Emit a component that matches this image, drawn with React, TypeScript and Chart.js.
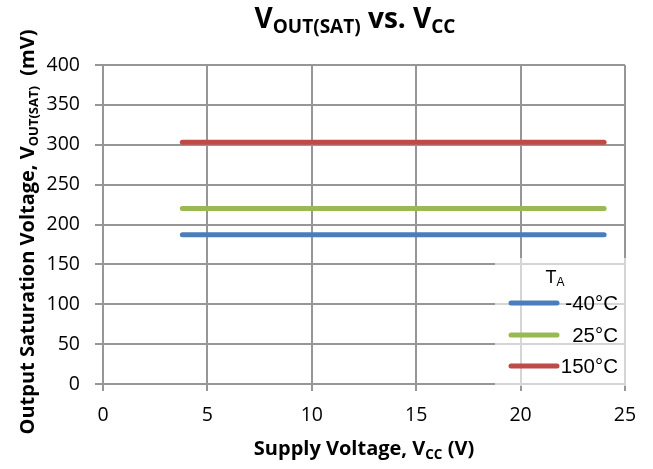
import React, { useEffect, useRef } from 'react';
import { Chart, registerables } from 'chart.js';

Chart.register(...registerables);

// ---- data ----
const supplyVoltage = [3.8, 5, 10, 15, 20, 24];
const seriesLabels = ['-40°C', '25°C', '150°C'];
const vsatMinus40 = [187, 187, 187, 187, 187, 187];
const vsat25 = [220, 220, 220, 220, 220, 220];
const vsat150 = [303, 303, 303, 303, 303, 303];
const seriesColors = ['#4A7EBB', '#98B954', '#BE4B48'];
const xMin = 0, xMax = 25, xStep = 5;
const yMin = 0, yMax = 400, yStep = 50;

type Seg = { t: string; sub?: boolean };

function drawRich(
  ctx: CanvasRenderingContext2D,
  segs: Seg[],
  x: number,
  y: number,
  mainFont: string,
  subFont: string,
  subDy: number,
  align: 'center' | 'left' | 'right' = 'center'
) {
  let total = 0;
  const widths = segs.map((s) => {
    ctx.font = s.sub ? subFont : mainFont;
    const w = ctx.measureText(s.t).width;
    total += w;
    return w;
  });
  let cx = align === 'center' ? x - total / 2 : align === 'right' ? x - total : x;
  ctx.textAlign = 'left';
  ctx.textBaseline = 'alphabetic';
  segs.forEach((s, i) => {
    ctx.font = s.sub ? subFont : mainFont;
    ctx.fillText(s.t, cx, y + (s.sub ? subDy : 0));
    cx += widths[i];
  });
}

const textPlugin = {
  id: 'richText',
  afterDatasetsDraw(chart: any) {
    const ctx: CanvasRenderingContext2D = chart.ctx;
    const ca = chart.chartArea;
    ctx.save();
    ctx.fillStyle = '#000';
    // title
    drawRich(
      ctx,
      [{ t: 'V' }, { t: 'OUT(SAT)', sub: true }, { t: ' vs. ' }, { t: 'V' }, { t: 'CC', sub: true }],
      355,
      28,
      'bold 28px "Open Sans"',
      'bold 19px "Open Sans"',
      5
    );
    // x axis title
    drawRich(
      ctx,
      [{ t: 'Supply Voltage, V' }, { t: 'CC', sub: true }, { t: ' (V)' }],
      (ca.left + ca.right) / 2,
      455,
      'bold 20px "Open Sans"',
      'bold 13.5px "Open Sans"',
      4
    );
    // y axis title
    ctx.save();
    ctx.translate(34, 232);
    ctx.rotate(-Math.PI / 2);
    drawRich(
      ctx,
      [{ t: 'Output Saturation Voltage, V' }, { t: 'OUT(SAT)', sub: true }, { t: '  (mV)' }],
      0,
      0,
      'bold 20px "Open Sans"',
      'bold 13px "Open Sans"',
      4
    );
    ctx.restore();

    // legend
    const lx = ca.right - 130;
    const ly = ca.bottom - 126;
    ctx.fillStyle = 'rgba(255,255,255,0.6)';
    ctx.fillRect(lx, ly, 132, 128);
    ctx.fillStyle = '#000';
    drawRich(ctx, [{ t: 'T' }, { t: 'A', sub: true }], 555, 283, '18px "Liberation Sans"', '12px "Liberation Sans"', 3);
    const rowY = [303, 335, 366];
    chart.data.datasets.forEach((ds: any, i: number) => {
      ctx.strokeStyle = ds.borderColor;
      ctx.lineWidth = 5;
      ctx.lineCap = 'round';
      ctx.beginPath();
      ctx.moveTo(511, rowY[i]);
      ctx.lineTo(557, rowY[i]);
      ctx.stroke();
      ctx.fillStyle = '#000';
      ctx.font = '20.5px "Liberation Sans"';
      ctx.textAlign = 'right';
      ctx.textBaseline = 'middle';
      ctx.fillText(ds.label, 618, rowY[i] + 1);
    });
    ctx.restore();
  },
};

export default function App() {
  const ref = useRef<HTMLCanvasElement>(null);
  useEffect(() => {
    if (!ref.current) return;
    const series = [vsatMinus40, vsat25, vsat150];
    const gridColor = '#969696';
    const chart = new Chart(ref.current, {
      type: 'line',
      data: {
        datasets: series.map((vals, i) => ({
          label: seriesLabels[i],
          data: supplyVoltage.map((x, j) => ({ x, y: vals[j] })),
          borderColor: seriesColors[i],
          backgroundColor: seriesColors[i],
          borderWidth: 5,
          borderCapStyle: 'round' as const,
          pointRadius: 0,
          tension: 0,
          fill: false,
        })),
      },
      options: {
        responsive: false,
        animation: false,
        layout: { padding: { top: 65, right: 28, left: 0, bottom: 0 } },
        plugins: { legend: { display: false }, title: { display: false }, tooltip: { enabled: false } },
        scales: {
          x: {
            type: 'linear',
            min: xMin,
            max: xMax,
            afterFit: (s: any) => { s.height = 85; },
            ticks: { stepSize: xStep, color: '#000', font: { family: '"Open Sans"', size: 19.5 }, padding: 13, maxRotation: 0 },
            grid: { color: gridColor, lineWidth: 2, tickLength: 7, tickColor: gridColor },
            border: { display: true, color: gridColor, width: 2 },
          },
          y: {
            min: yMin,
            max: yMax,
            afterFit: (s: any) => { s.width = 103; },
            ticks: { stepSize: yStep, color: '#000', font: { family: '"Open Sans"', size: 19.5 }, padding: 15 },
            grid: { color: gridColor, lineWidth: 2, tickLength: 8, tickColor: gridColor },
            border: { display: true, color: gridColor, width: 2 },
          },
        },
      },
      plugins: [textPlugin],
    });
    return () => chart.destroy();
  }, []);
  return (
    <div style={{ position: 'absolute', left: 0, top: 0, width: 653, height: 469, background: '#fff' }}>
      <canvas ref={ref} width={653} height={469} />
    </div>
  );
}
